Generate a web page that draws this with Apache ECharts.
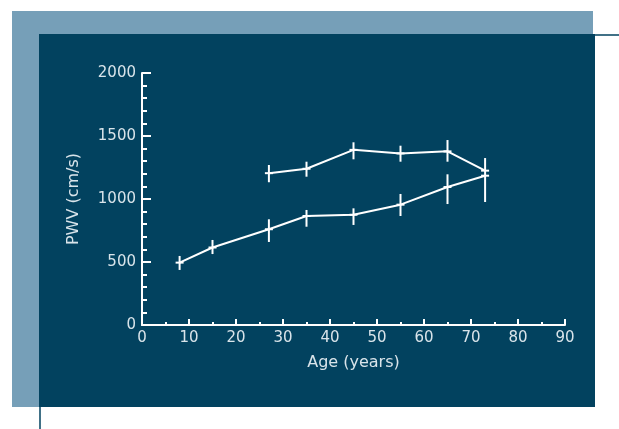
<!DOCTYPE html>
<html><head><meta charset="utf-8">
<script src="https://cdn.jsdelivr.net/npm/echarts@6/dist/echarts.min.js"></script>
<style>html,body{margin:0;padding:0;background:#fff}#c{width:619px;height:429px}</style>
</head><body><div id="c"></div>
<script>
var xTicks = [0,10,20,30,40,50,60,70,80,90];
var yTicks = [0,500,1000,1500,2000];
var lowerAge = [8, 15, 27, 35, 45, 55, 65, 73];
var lowerPwv = [495, 615, 760, 865, 875, 955, 1095, 1185];
var lowerMin = [437, 563, 659, 780, 794, 865, 960, 976];
var lowerMax = [548, 675, 839, 913, 926, 1040, 1196, 1325];
var upperAge = [27, 35, 45, 55, 65, 73];
var upperPwv = [1205, 1240, 1390, 1362, 1378, 1225];
var upperMin = [1133, 1177, 1315, 1296, 1296, 1225];
var upperMax = [1270, 1296, 1450, 1423, 1468, 1225];

var chart = echarts.init(document.getElementById('c'), null, {renderer:'canvas'});
var txt = '#d9e4ea';
var font = 'DejaVu Sans';

function pts(a, v){ return a.map(function(x,i){return [x, v[i]];}); }
function errData(a, v, lo, hi){ return a.map(function(x,i){return [x, v[i], lo[i], hi[i]];}); }

function renderErr(params, api){
  var x = api.value(0), v = api.value(1), lo = api.value(2), hi = api.value(3);
  var p = api.coord([x, v]), pl = api.coord([x, lo]), ph = api.coord([x, hi]);
  var st = {stroke:'#ffffff', lineWidth:2};
  var children = [
    {type:'line', shape:{x1:p[0]-4, y1:p[1], x2:p[0]+4, y2:p[1]}, style:st}
  ];
  if (hi !== lo) children.push({type:'line', shape:{x1:pl[0], y1:pl[1], x2:ph[0], y2:ph[1]}, style:st});
  return {type:'group', children:children};
}

chart.setOption({
  animation:false,
  backgroundColor:'#ffffff',
  graphic:[
    {type:'rect', shape:{x:12, y:11, width:581, height:396}, style:{fill:'#769fb8'}, z:-10},
    {type:'rect', shape:{x:39, y:34, width:556, height:373}, style:{fill:'#02425f'}, z:-9},
    {type:'line', shape:{x1:595, y1:35, x2:619, y2:35}, style:{stroke:'#02425f', lineWidth:1.5}, z:-9},
    {type:'line', shape:{x1:40, y1:407, x2:40, y2:429}, style:{stroke:'#02425f', lineWidth:1.5}, z:-9}
  ],
  grid:{left:142, right:54, top:73, bottom:104},
  xAxis:{
    type:'value', min:0, max:90, interval:10,
    name:'Age (years)', nameLocation:'middle', nameGap:30,
    nameTextStyle:{color:txt, fontSize:16, fontFamily:font},
    axisLine:{show:true, lineStyle:{color:'#ffffff', width:2}},
    axisTick:{show:true, inside:true, length:6, lineStyle:{color:'#ffffff', width:2}},
    minorTick:{show:true, splitNumber:2, length:3, lineStyle:{color:'#ffffff', width:2}},
    splitLine:{show:false},
    axisLabel:{color:txt, fontSize:15, fontFamily:font, margin:6,
      formatter:function(v){ return xTicks.indexOf(v) >= 0 ? String(v) : ''; }}
  },
  yAxis:{
    type:'value', min:0, max:2000, interval:500,
    name:'PWV (cm/s)', nameLocation:'middle', nameGap:60, nameRotate:90,
    nameTextStyle:{color:txt, fontSize:16, fontFamily:font},
    axisLine:{show:true, lineStyle:{color:'#ffffff', width:2}},
    axisTick:{show:true, inside:true, length:9, lineStyle:{color:'#ffffff', width:2}},
    minorTick:{show:true, splitNumber:5, length:5, lineStyle:{color:'#ffffff', width:2}},
    splitLine:{show:false},
    axisLabel:{color:txt, fontSize:15, fontFamily:font, margin:6,
      formatter:function(v){ return yTicks.indexOf(v) >= 0 ? String(v) : ''; }}
  },
  series:[
    {type:'line', data:pts(lowerAge, lowerPwv), symbol:'none', lineStyle:{color:'#ffffff', width:2}},
    {type:'line', data:pts(upperAge, upperPwv), symbol:'none', lineStyle:{color:'#ffffff', width:2}},
    {type:'custom', data:errData(lowerAge, lowerPwv, lowerMin, lowerMax), renderItem:renderErr, z:3},
    {type:'custom', data:errData(upperAge, upperPwv, upperMin, upperMax), renderItem:renderErr, z:3}
  ]
});
</script></body></html>
